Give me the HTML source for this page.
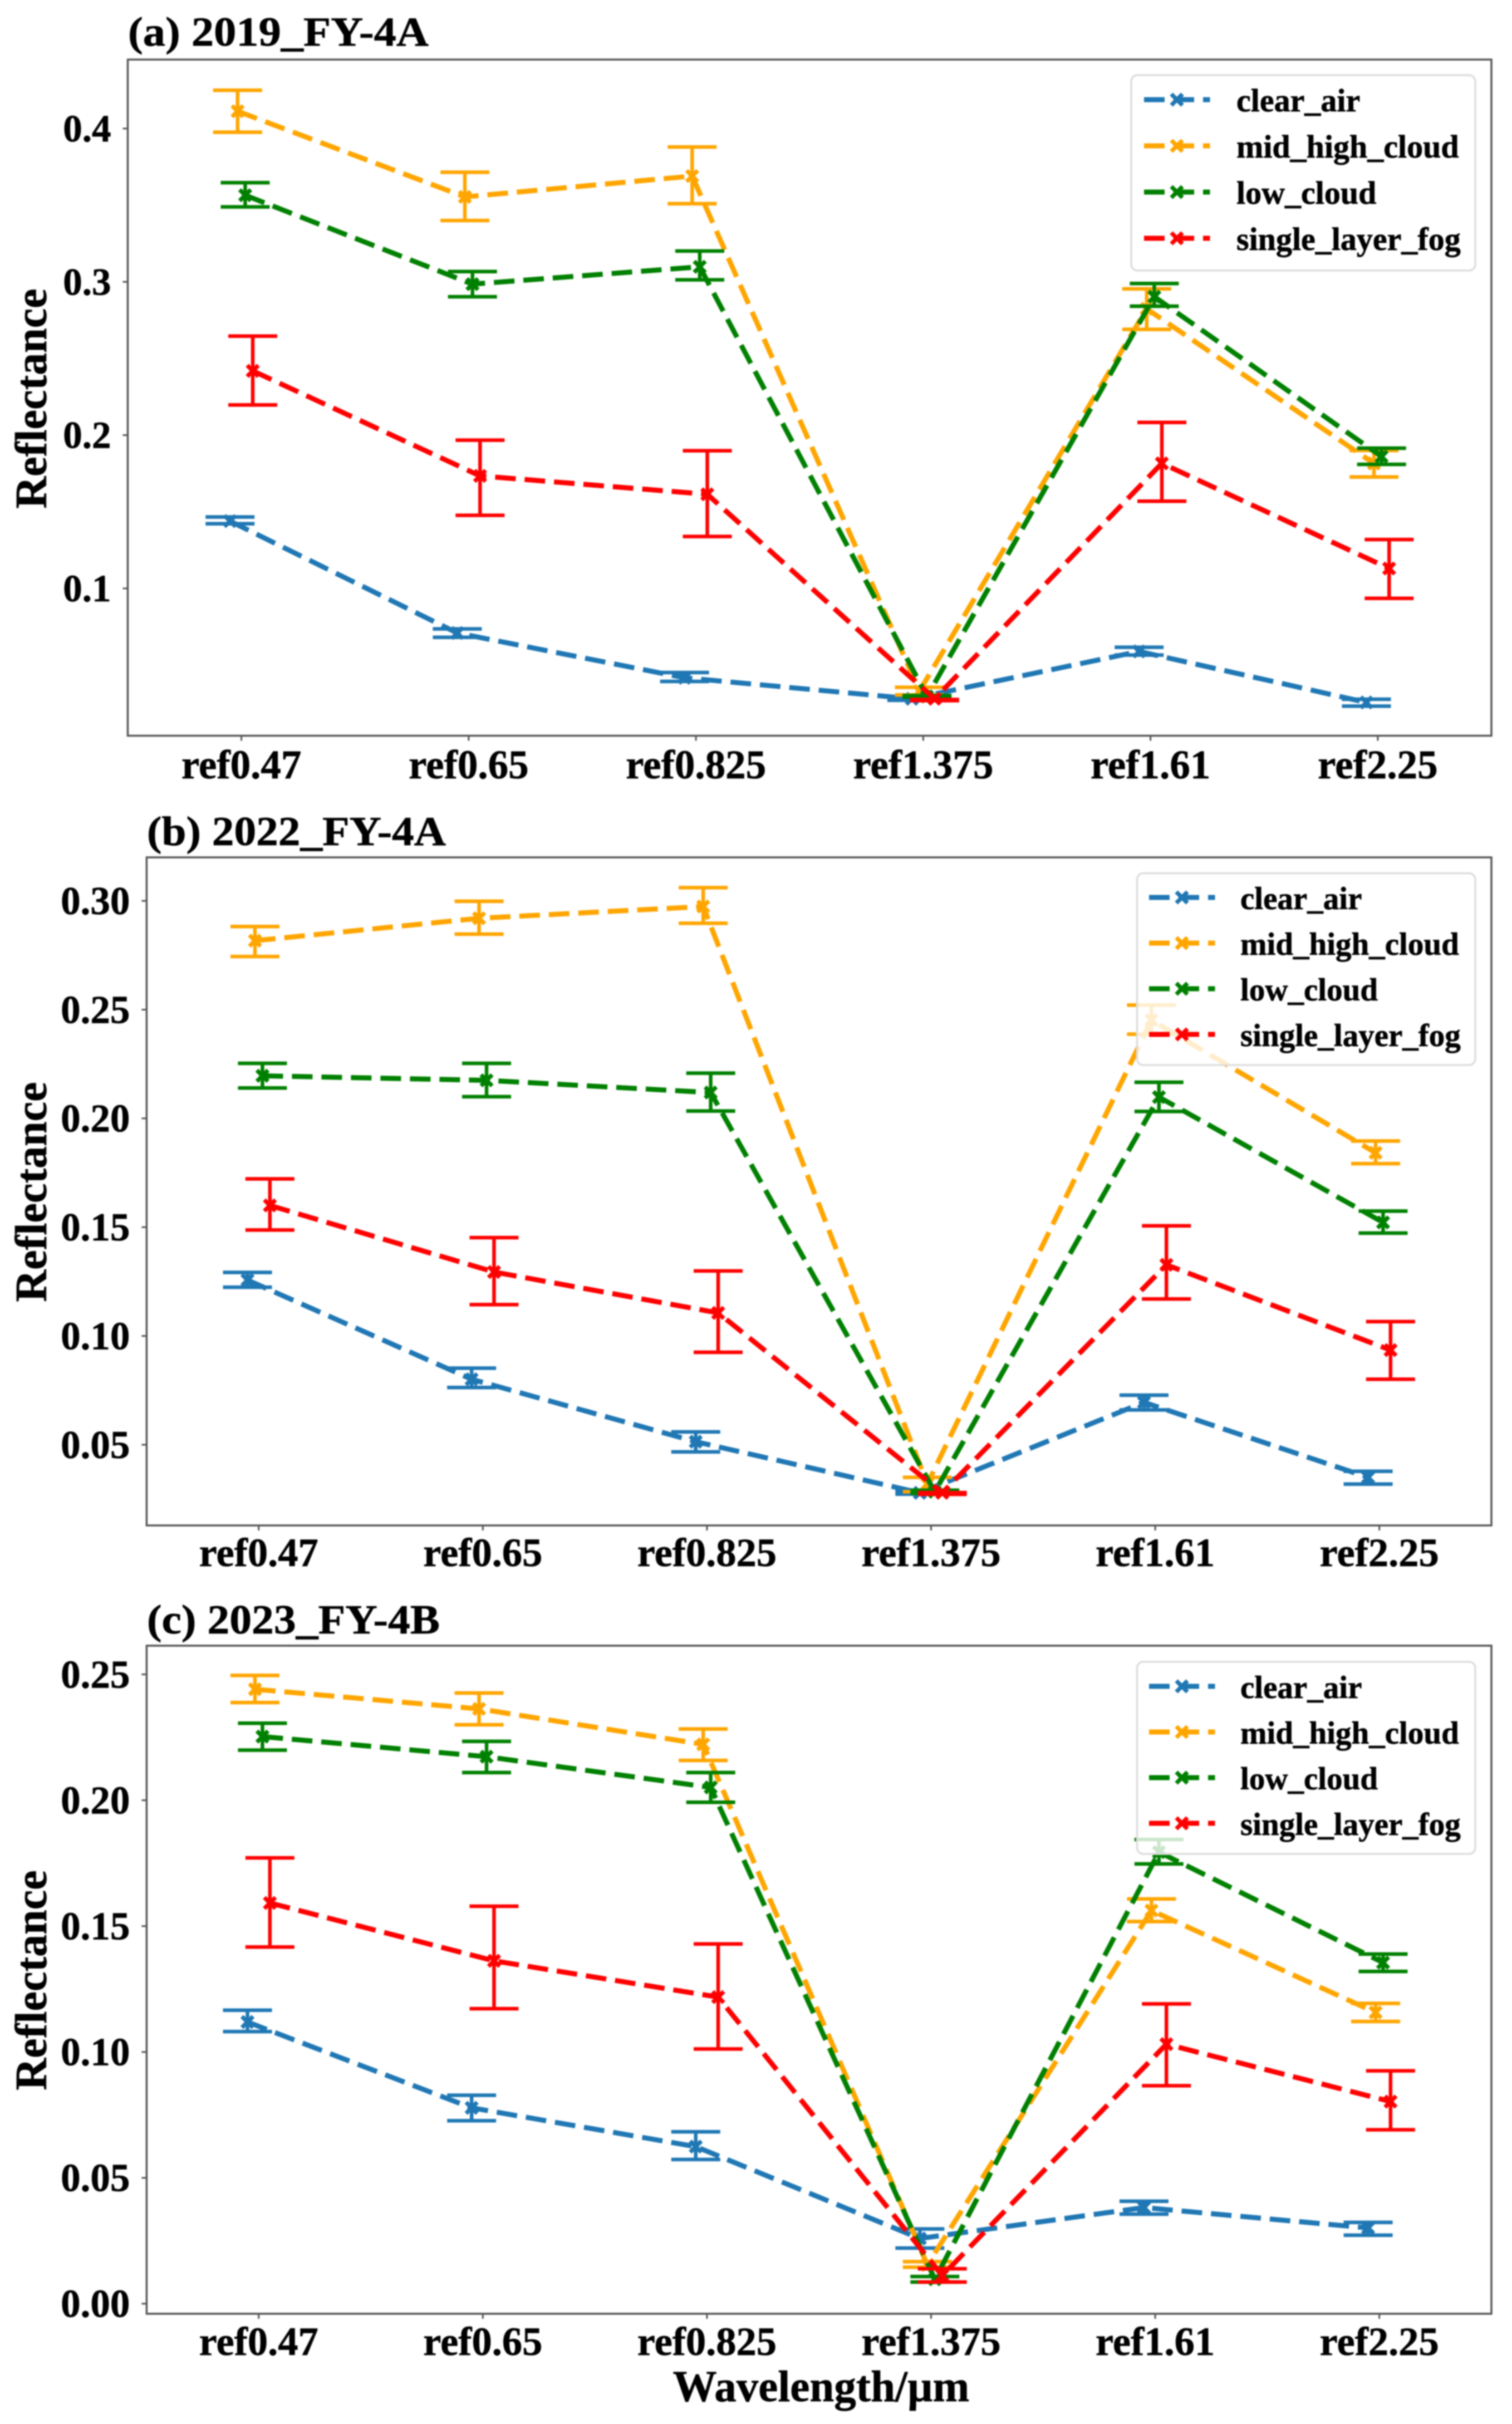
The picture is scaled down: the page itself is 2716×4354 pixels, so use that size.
<!DOCTYPE html>
<html lang="en">
<head>
<meta charset="utf-8">
<title>Reflectance by wavelength for three satellite years</title>
<style>
  html, body { margin: 0; padding: 0; background: #fff; }
  body { width: 2716px; height: 4354px; overflow: hidden; }
  #figure { display: block; filter: blur(1.2px); }
  text { font-family: "Liberation Serif", serif; font-weight: bold; fill: #000; stroke: #000; stroke-width: 0.7px; }
</style>
</head>
<body>
<svg id="figure" xmlns="http://www.w3.org/2000/svg" width="2716" height="4354" viewBox="0 0 2716 4354">
  <rect width="2716" height="4354" fill="#ffffff"/>
  <text x="1475" y="4313" font-size="79" text-anchor="middle">Wavelength/µm</text>
</svg>
<script>
const categories = ['ref0.47', 'ref0.65', 'ref0.825', 'ref1.375', 'ref1.61', 'ref2.25'];
const seriesNames = ['clear_air', 'mid_high_cloud', 'low_cloud', 'single_layer_fog'];

// Panel (a) 2019_FY-4A
const aTickValues = [0.1, 0.2, 0.3, 0.4];
const aTickLabels = ['0.1', '0.2', '0.3', '0.4'];
const aClearMean = [0.1439, 0.0709, 0.0417, 0.0280, 0.0589, 0.0256];
const aClearHigh = [0.1466, 0.0736, 0.0451, 0.0285, 0.0616, 0.0277];
const aClearLow  = [0.1422, 0.0681, 0.0393, 0.0270, 0.0565, 0.0232];
const aMidMean = [0.4113, 0.3554, 0.3690, 0.0330, 0.2824, 0.1815];
const aMidHigh = [0.4250, 0.3715, 0.3880, 0.0355, 0.2954, 0.1900];
const aMidLow  = [0.3976, 0.3400, 0.3510, 0.0305, 0.2690, 0.1727];
const aLowMean = [0.3565, 0.2985, 0.3098, 0.0295, 0.2903, 0.1860];
const aLowHigh = [0.3647, 0.3067, 0.3201, 0.0301, 0.2989, 0.1915];
const aLowLow  = [0.3489, 0.2903, 0.3013, 0.0290, 0.2841, 0.1809];
const aFogMean = [0.2419, 0.1734, 0.1614, 0.0280, 0.1816, 0.1130];
const aFogHigh = [0.2646, 0.1967, 0.1898, 0.0275, 0.2083, 0.1319];
const aFogLow  = [0.2197, 0.1477, 0.1339, 0.0268, 0.1569, 0.0935];

// Panel (b) 2022_FY-4A
const bTickValues = [0.05, 0.10, 0.15, 0.20, 0.25, 0.30];
const bTickLabels = ['0.05', '0.10', '0.15', '0.20', '0.25', '0.30'];
const bClearMean = [0.1257, 0.0801, 0.0514, 0.0279, 0.0695, 0.0350];
const bClearHigh = [0.1292, 0.0852, 0.0559, 0.0285, 0.0728, 0.0378];
const bClearLow  = [0.1224, 0.0763, 0.0467, 0.0273, 0.0660, 0.0319];
const bMidMean = [0.2817, 0.2920, 0.2974, 0.0320, 0.2452, 0.1842];
const bMidHigh = [0.2882, 0.2998, 0.3061, 0.0350, 0.2521, 0.1896];
const bMidLow  = [0.2744, 0.2847, 0.2897, 0.0284, 0.2387, 0.1792];
const bLowMean = [0.2196, 0.2175, 0.2119, 0.0284, 0.2098, 0.1522];
const bLowHigh = [0.2253, 0.2253, 0.2208, 0.0291, 0.2166, 0.1574];
const bLowLow  = [0.2140, 0.2100, 0.2034, 0.0276, 0.2032, 0.1473];
const bFogMean = [0.1600, 0.1294, 0.1106, 0.0279, 0.1327, 0.0935];
const bFogHigh = [0.1722, 0.1452, 0.1299, 0.0280, 0.1506, 0.1066];
const bFogLow  = [0.1487, 0.1144, 0.0925, 0.0272, 0.1170, 0.0801];

// Panel (c) 2023_FY-4B
const cTickValues = [0.00, 0.05, 0.10, 0.15, 0.20, 0.25];
const cTickLabels = ['0.00', '0.05', '0.10', '0.15', '0.20', '0.25'];
const cClearMean = [0.1119, 0.0778, 0.0624, 0.0259, 0.0382, 0.0301];
const cClearHigh = [0.1166, 0.0828, 0.0683, 0.0297, 0.0407, 0.0323];
const cClearLow  = [0.1081, 0.0727, 0.0573, 0.0221, 0.0356, 0.0272];
const cMidMean = [0.2441, 0.2363, 0.2222, 0.0154, 0.1562, 0.1157];
const cMidHigh = [0.2496, 0.2426, 0.2283, 0.0167, 0.1608, 0.1193];
const cMidLow  = [0.2388, 0.2300, 0.2158, 0.0145, 0.1518, 0.1121];
const cLowMean = [0.2253, 0.2173, 0.2051, 0.0097, 0.1794, 0.1355];
const cLowHigh = [0.2306, 0.2234, 0.2110, 0.0108, 0.1844, 0.1389];
const cLowLow  = [0.2199, 0.2110, 0.1992, 0.0086, 0.1747, 0.1320];
const cFogMean = [0.1592, 0.1362, 0.1218, 0.0112, 0.1031, 0.0803];
const cFogHigh = [0.1771, 0.1579, 0.1429, 0.0139, 0.1191, 0.0925];
const cFogLow  = [0.1417, 0.1172, 0.1012, 0.0086, 0.0866, 0.0691];

const dodgeOffsets = [-0.05, -0.0167, 0.0167, 0.05];
const seriesColors = ['#1f77b4', '#ffa500', '#008000', '#ff0000'];

const panels = [
  {
    key: 'a', title: '(a) 2019_FY-4A', titleX: 230, titleY: 82, titleLen: 540,
    left: 229.5, right: 2679, top: 107, bottom: 1321.5, yMin: 0.0039, yMax: 0.4450,
    ticks: aTickValues, labels: aTickLabels, yFont: 69, xFont: 73, xLabelY: 1398,
    yTitleX: 83, yTitleY: 716,
    legend: { left: 2032, right: 2650, top: 135, bottom: 486, rowStart: 179, rowStep: 83, handleX: 2055, textX: 2221, font: 58 },
    means: [aClearMean, aMidMean, aLowMean, aFogMean],
    highs: [aClearHigh, aMidHigh, aLowHigh, aFogHigh],
    lows: [aClearLow, aMidLow, aLowLow, aFogLow]
  },
  {
    key: 'b', title: '(b) 2022_FY-4A', titleX: 264, titleY: 1518, titleLen: 537,
    left: 263.4, right: 2679, top: 1540, bottom: 2740, yMin: 0.0129, yMax: 0.3200,
    ticks: bTickValues, labels: bTickLabels, yFont: 71, xFont: 72.5, xLabelY: 2813,
    yTitleX: 83, yTitleY: 2141,
    legend: { left: 2042.5, right: 2650, top: 1568.6, bottom: 1913, rowStart: 1612, rowStep: 82, handleX: 2064, textX: 2228, font: 57 },
    means: [bClearMean, bMidMean, bLowMean, bFogMean],
    highs: [bClearHigh, bMidHigh, bLowHigh, bFogHigh],
    lows: [bClearLow, bMidLow, bLowLow, bFogLow]
  },
  {
    key: 'c', title: '(c) 2023_FY-4B', titleX: 264, titleY: 2934, titleLen: 526,
    left: 263.4, right: 2679, top: 2956, bottom: 4156, yMin: -0.0040, yMax: 0.2614,
    ticks: cTickValues, labels: cTickLabels, yFont: 71, xFont: 72.5, xLabelY: 4230,
    yTitleX: 83, yTitleY: 3557,
    legend: { left: 2042.5, right: 2650, top: 2985, bottom: 3330, rowStart: 3029, rowStep: 82, handleX: 2064, textX: 2228, font: 57 },
    means: [cClearMean, cMidMean, cLowMean, cFogMean],
    highs: [cClearHigh, cMidHigh, cLowHigh, cFogHigh],
    lows: [cClearLow, cMidLow, cLowLow, cFogLow]
  }
];

const SVG_NS = 'http://www.w3.org/2000/svg';
const figure = document.getElementById('figure');

function make(parent, tag, attrs, content) {
  const el = document.createElementNS(SVG_NS, tag);
  for (const k in attrs) el.setAttribute(k, attrs[k]);
  if (content !== undefined) el.textContent = content;
  parent.appendChild(el);
  return el;
}

function drawX(g, cx, cy, half, color, width) {
  const d = 'M' + (cx - half) + ' ' + (cy - half) + 'L' + (cx + half) + ' ' + (cy + half) +
            'M' + (cx - half) + ' ' + (cy + half) + 'L' + (cx + half) + ' ' + (cy - half);
  return make(g, 'path', { d: d, stroke: color, 'stroke-width': width, fill: 'none' });
}

panels.forEach(function (p) {
  const xScale = function (v) { return p.left + (v + 0.5) * (p.right - p.left) / 6; };
  const yScale = function (v) { return p.bottom - (v - p.yMin) * (p.bottom - p.top) / (p.yMax - p.yMin); };

  const g = make(figure, 'g', {});
  
  

  const title = make(g, 'text', { x: p.titleX, y: p.titleY, 'font-size': 74, textLength: p.titleLen, lengthAdjust: 'spacingAndGlyphs' }, p.title);
  
  

  const yTitle = make(g, 'text', {
    x: 0, y: 0, 'font-size': 80, 'text-anchor': 'middle',
    transform: 'translate(' + p.yTitleX + ' ' + p.yTitleY + ') rotate(-90)'
  }, 'Reflectance');
  
  

  // y axis ticks
  p.ticks.forEach(function (v, i) {
    const y = yScale(v);
    const tick = make(g, 'line', { x1: p.left - 9, x2: p.left, y1: y, y2: y, stroke: '#555', 'stroke-width': 3 });
    
    
    const label = make(g, 'text', { x: p.left - 30, y: y + p.yFont * 0.335, 'font-size': p.yFont, 'text-anchor': 'end' }, p.labels[i]);
    
    
  });

  // x axis ticks
  categories.forEach(function (c, i) {
    const x = xScale(i);
    const tick = make(g, 'line', { x1: x, x2: x, y1: p.bottom, y2: p.bottom + 9, stroke: '#555', 'stroke-width': 3 });
    
    
    const label = make(g, 'text', { x: x, y: p.xLabelY, 'font-size': p.xFont, 'text-anchor': 'middle' }, c);
    
    
  });

  // series
  seriesNames.forEach(function (name, s) {
    const color = seriesColors[s];
    const sg = make(g, 'g', {});
    
    

    const pts = p.means[s].map(function (v, i) {
      return xScale(i + dodgeOffsets[s]) + ',' + yScale(v);
    }).join(' ');
    const line = make(sg, 'polyline', { points: pts, fill: 'none', stroke: color, 'stroke-width': 9, 'stroke-dasharray': '37 16', 'stroke-linejoin': 'miter' });
    
    

    p.means[s].forEach(function (v, i) {
      const x = xScale(i + dodgeOffsets[s]);
      const yHigh = yScale(p.highs[s][i]);
      const yLow = yScale(p.lows[s][i]);
      const stem = make(sg, 'line', { x1: x, x2: x, y1: yHigh, y2: yLow, stroke: color, 'stroke-width': 6.5 });
      
      
      const capTop = make(sg, 'line', { x1: x - 44, x2: x + 44, y1: yHigh, y2: yHigh, stroke: color, 'stroke-width': 6.5 });
      
      
      const capBottom = make(sg, 'line', { x1: x - 44, x2: x + 44, y1: yLow, y2: yLow, stroke: color, 'stroke-width': 6.5 });
      
      
      const marker = drawX(sg, x, yScale(v), 10, color, 7.5);
      
      
    });
  });

  // frame
  const frame = make(g, 'rect', { x: p.left, y: p.top, width: p.right - p.left, height: p.bottom - p.top, fill: 'none', stroke: '#555', 'stroke-width': 3.5 });
  
  

  // legend
  const L = p.legend;
  const lg = make(g, 'g', {});
  
  
  const box = make(lg, 'rect', { x: L.left, y: L.top, width: L.right - L.left, height: L.bottom - L.top, rx: 11, ry: 11, fill: 'rgba(255,255,255,0.8)', stroke: '#dddddd', 'stroke-width': 3.5 });
  
  
  seriesNames.forEach(function (name, s) {
    const y = L.rowStart + s * L.rowStep;
    const entry = make(lg, 'g', {});
    
    
    make(entry, 'line', { x1: L.handleX, x2: L.handleX + 118.5, y1: y, y2: y, stroke: seriesColors[s], 'stroke-width': 9, 'stroke-dasharray': '37 16' });
    drawX(entry, L.handleX + 59, y, 10, seriesColors[s], 7.5);
    make(entry, 'text', { x: L.textX, y: y + 21, 'font-size': L.font }, name);
  });
});
</script>
</body>
</html>
